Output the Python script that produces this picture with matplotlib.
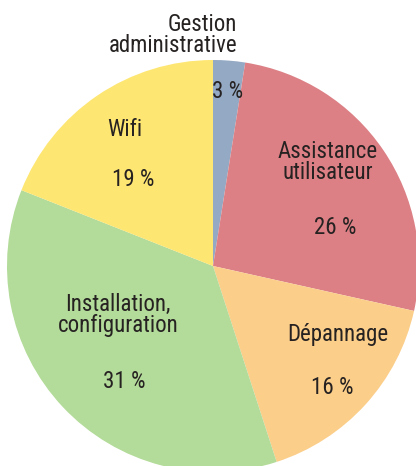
import matplotlib
matplotlib.use("Agg")
import matplotlib.pyplot as plt

# slice shares (clockwise from 12 o'clock)
categories = ["Gestion\nadministrative", "Assistance\nutilisateur", "Dépannage",
              "Installation,\nconfiguration", "Wifi"]
shares = [2.5, 26, 16.5, 36, 19]
pct_labels = ["3 %", "26 %", "16 %", "31 %", "19 %"]
colors = ["#94A9C3", "#DC8085", "#FBCE8A", "#B3DB99", "#FEE672"]

# label anchors in pixels (top-left origin)
name_pos = [(237, 35), (328, 162), (338, 335), (118, 315), (125, 130)]
pct_pos = [(228, 92), (335, 228), (332, 388), (124, 382), (133, 179)]

W, H = 416, 466
plt.rcParams["font.family"] = ["Roboto Condensed", "DejaVu Sans"]
TXT = "#262222"

fig = plt.figure(figsize=(W / 100, H / 100), dpi=100)
ax = fig.add_axes([0, 0, 1, 1])
ax.pie(shares, colors=colors, startangle=90, counterclock=False,
       center=(213, H - 266), radius=206)
ax.set_xlim(0, W); ax.set_ylim(0, H)
ax.set_aspect("equal")
ax.axis("off")

for i, lab in enumerate(categories):
    x, y = name_pos[i]
    ha = "right" if i == 0 else "center"
    ax.text(x, H - y, lab, ha=ha, va="center", fontsize=16.5, color=TXT,
            linespacing=0.85)
    px, py = pct_pos[i]
    ax.text(px, H - py, pct_labels[i], ha="center", va="center", fontsize=16.5,
            color=TXT)

fig.savefig("out.png", dpi=100)
